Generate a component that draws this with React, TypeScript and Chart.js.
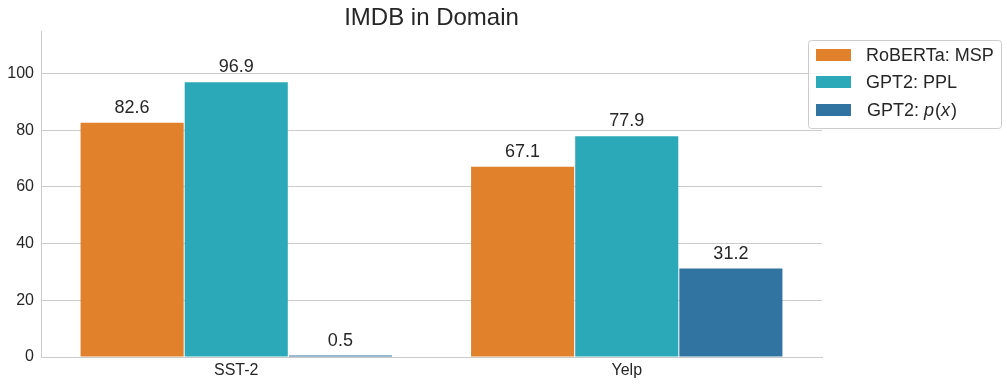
import React, { useEffect, useRef } from "react";
import { Chart, registerables } from "chart.js";

Chart.register(...registerables);

const categories = ["SST-2", "Yelp"];
const robertaMsp = [82.6, 67.1];
const gpt2Ppl = [96.9, 77.9];
const gpt2Px = [0.5, 31.2];
const yTicks = [0, 20, 40, 60, 80, 100];
const title = "IMDB in Domain";

const FONT = "'Liberation Sans', Arial, sans-serif";
const TEXT = "#262626";
const GRID = "#cccccc";
const COLORS = ["#e1812c", "#2ca9b8", "#3274a1"];

const labelPlugin = {
  id: "customDecor",
  afterDatasetsDraw(chart: any) {
    const ctx = chart.ctx;
    ctx.save();
    ctx.fillStyle = TEXT;
    ctx.font = `18px ${FONT}`;
    ctx.textAlign = "center";
    ctx.textBaseline = "alphabetic";
    chart.data.datasets.forEach((ds: any, i: number) => {
      const meta = chart.getDatasetMeta(i);
      meta.data.forEach((el: any, j: number) => {
        ctx.fillText(ds.data[j].toFixed(1), el.x, el.y - 10);
      });
    });
    // title
    const ca = chart.chartArea;
    ctx.font = `24px ${FONT}`;
    ctx.fillText(title, (ca.left + ca.right) / 2, 25);
    ctx.restore();
  },
  afterDraw(chart: any) {
    const ctx = chart.ctx;
    ctx.save();
    // legend frame
    const x0 = 808.5, y0 = 40.5, w = 193, h = 88, r = 3;
    ctx.beginPath();
    ctx.moveTo(x0 + r, y0);
    ctx.lineTo(x0 + w - r, y0);
    ctx.arcTo(x0 + w, y0, x0 + w, y0 + r, r);
    ctx.lineTo(x0 + w, y0 + h - r);
    ctx.arcTo(x0 + w, y0 + h, x0 + w - r, y0 + h, r);
    ctx.lineTo(x0 + r, y0 + h);
    ctx.arcTo(x0, y0 + h, x0, y0 + h - r, r);
    ctx.lineTo(x0, y0 + r);
    ctx.arcTo(x0, y0, x0 + r, y0, r);
    ctx.closePath();
    ctx.fillStyle = "rgba(255,255,255,0.8)";
    ctx.fill();
    ctx.strokeStyle = GRID;
    ctx.lineWidth = 1;
    ctx.stroke();

    const rows = [61, 88, 116];
    const names = chart.data.datasets.map((d: any) => d.label);
    ctx.textBaseline = "alphabetic";
    ctx.textAlign = "left";
    rows.forEach((by, i) => {
      ctx.fillStyle = COLORS[i];
      ctx.fillRect(816, by - 12, 35, 12);
      ctx.fillStyle = TEXT;
      if (i < 2) {
        ctx.font = `18px ${FONT}`;
        ctx.fillText(names[i], 866, by);
      } else {
        const parts: [string, boolean][] = [["GPT2: ", false], ["p", true], ["(", false], ["x", true], [")", false]];
        let x = 867;
        parts.forEach(([t, it]) => {
          ctx.font = `${it ? "italic " : ""}18px ${FONT}`;
          ctx.fillText(t, x, by);
          x += ctx.measureText(t).width + (it ? 1 : 0);
        });
      }
    });
    ctx.restore();
  },
};

export default function App() {
  const ref = useRef<HTMLCanvasElement>(null);
  useEffect(() => {
    document.body.style.margin = "0";
    const chart = new Chart(ref.current!, {
      type: "bar",
      data: {
        labels: categories,
        datasets: [
          { label: "RoBERTa: MSP", data: robertaMsp, backgroundColor: COLORS[0] },
          { label: "GPT2: PPL", data: gpt2Ppl, backgroundColor: COLORS[1] },
          { label: "GPT2: p(x)", data: gpt2Px, backgroundColor: COLORS[2] },
        ].map((d) => ({
          ...d,
          borderWidth: 0,
          inflateAmount: 0,
          categoryPercentage: 0.8,
          barPercentage: 0.99,
        })),
      },
      options: {
        responsive: false,
        animation: false,
        layout: { padding: { top: 31, right: 185, left: 0, bottom: 0 } },
        plugins: { legend: { display: false }, title: { display: false }, tooltip: { enabled: false } },
        scales: {
          x: {
            offset: true,
            grid: { display: false, drawTicks: false },
            border: { display: true, color: GRID, width: 1 },
            ticks: { color: TEXT, font: { family: FONT, size: 16 }, padding: 4 },
            afterFit(scale: any) {
              scale.height = 29;
            },
          },
          y: {
            min: 0,
            max: 115,
            afterBuildTicks(scale: any) {
              scale.ticks = yTicks.map((v) => ({ value: v }));
            },
            grid: { color: GRID, drawTicks: false, lineWidth: 1 },
            border: { display: true, color: GRID, width: 1 },
            ticks: { color: TEXT, font: { family: FONT, size: 16 }, padding: 7 },
            afterFit(scale: any) {
              scale.width = 41;
            },
          },
        },
      },
      plugins: [labelPlugin],
    });
    return () => chart.destroy();
  }, []);
  return (
    <div style={{ position: "fixed", left: 0, top: 0, width: 1007, height: 386, background: "#fff" }}>
      <canvas ref={ref} width={1007} height={386} style={{ width: 1007, height: 386 }} />
    </div>
  );
}
